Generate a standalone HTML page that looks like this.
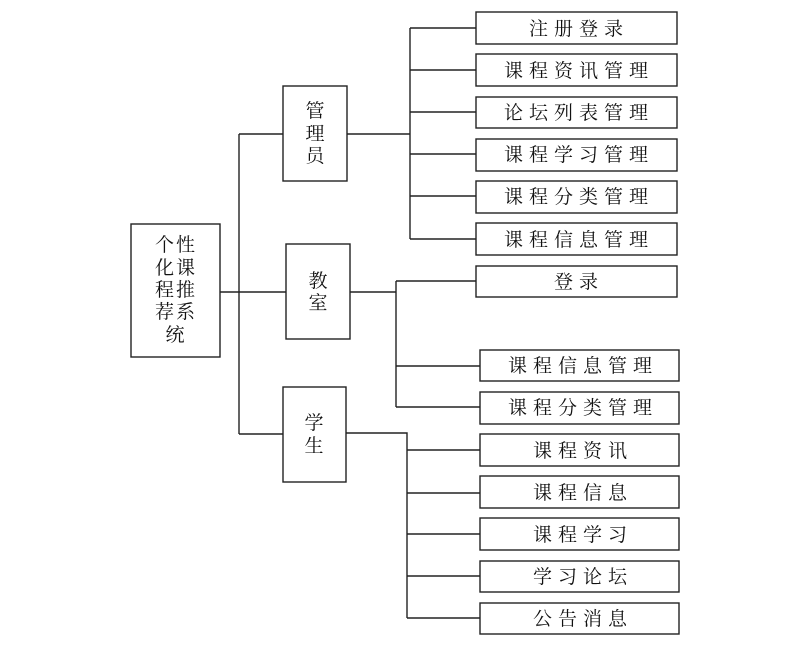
<!DOCTYPE html>
<html><head><meta charset="utf-8"><style>
html,body{margin:0;padding:0;background:#fff;}
svg{display:block}
text{font-family:"Liberation Serif","Noto Serif CJK SC",serif;font-size:19px;fill:#111;}
</style></head><body>
<svg width="805" height="648" viewBox="0 0 805 648" xmlns="http://www.w3.org/2000/svg">
<g fill="#fff" stroke="#222" stroke-width="1.4">
<rect x="131" y="224" width="89" height="133"/>
<rect x="283" y="86" width="64" height="95"/>
<rect x="286" y="244" width="64" height="95"/>
<rect x="283" y="387" width="63" height="95"/>
<rect x="476" y="12" width="201" height="32"/>
<rect x="476" y="54" width="201" height="32"/>
<rect x="476" y="97" width="201" height="31"/>
<rect x="476" y="139" width="201" height="32"/>
<rect x="476" y="181" width="201" height="32"/>
<rect x="476" y="223" width="201" height="32"/>
<rect x="476" y="266" width="201" height="31"/>
<rect x="480" y="350" width="199" height="31"/>
<rect x="480" y="392" width="199" height="32"/>
<rect x="480" y="434" width="199" height="32"/>
<rect x="480" y="476" width="199" height="32"/>
<rect x="480" y="518" width="199" height="32"/>
<rect x="480" y="561" width="199" height="31"/>
<rect x="480" y="603" width="199" height="31"/>
</g>
<g stroke="#222" stroke-width="1.4" fill="none">
<path d="M220 292H286M239 134V434M239 134H283M239 434H283"/>
<path d="M347 134H410M410 28V239M410 28H476M410 70H476M410 112H476M410 154H476M410 196H476M410 239H476"/>
<path d="M350 292H396M396 281V407M396 281H476M396 366H480M396 407H480"/>
<path d="M346 433H407V618M407 450H480M407 493H480M407 534H480M407 576H480M407 618H480"/>
</g>
<g text-anchor="middle" letter-spacing="2">
<text x="176" y="251">个性</text>
<text x="176" y="274">化课</text>
<text x="176" y="296">程推</text>
<text x="176" y="318">荐系</text>
<text x="176" y="341">统</text>
</g>
<g text-anchor="middle">
<text x="315" y="117">管</text>
<text x="315" y="140">理</text>
<text x="315" y="162">员</text>
<text x="318" y="287">教</text>
<text x="318" y="309">室</text>
<text x="314" y="429">学</text>
<text x="314" y="452">生</text>
</g>
<g text-anchor="middle" letter-spacing="6">
<text x="579" y="35">注册登录</text>
<text x="579" y="77">课程资讯管理</text>
<text x="579" y="119">论坛列表管理</text>
<text x="579" y="161">课程学习管理</text>
<text x="579" y="203">课程分类管理</text>
<text x="579" y="246">课程信息管理</text>
<text x="579" y="288">登录</text>
<text x="583" y="372">课程信息管理</text>
<text x="583" y="414">课程分类管理</text>
<text x="583" y="457">课程资讯</text>
<text x="583" y="499">课程信息</text>
<text x="583" y="541">课程学习</text>
<text x="583" y="583">学习论坛</text>
<text x="583" y="625">公告消息</text>
</g>
</svg>
</body></html>
